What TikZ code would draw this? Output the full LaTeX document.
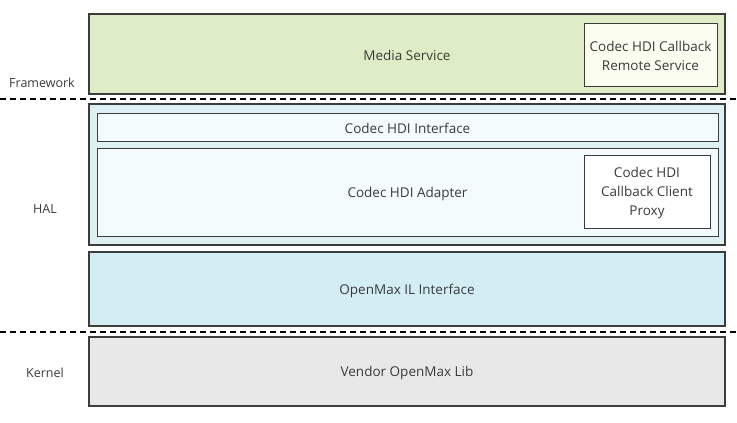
\documentclass[tikz,border=0pt]{standalone}
\usepackage{fontspec}
\setmainfont{Open Sans}
\definecolor{greenfill}{HTML}{DFEDC6}
\definecolor{remotefill}{HTML}{FAFDF0}
\definecolor{halfill}{HTML}{DDF1F5}
\definecolor{innerfill}{HTML}{F4FBFD}
\definecolor{omxfill}{HTML}{D2EEF4}
\definecolor{vendorfill}{HTML}{E8E8E8}
\definecolor{bordercol}{HTML}{3C3C3C}
\definecolor{txtcol}{HTML}{3A3A3A}
\begin{document}
\begin{tikzpicture}[x=1pt,y=-1pt,
  every node/.style={font=\fontsize{13.5}{19}\selectfont, text=txtcol, inner sep=0pt, outer sep=0pt},
  layerbox/.style={draw=bordercol, line width=1.8pt, rectangle},
  innerbox/.style={draw=bordercol, line width=0.8pt, rectangle},
  sepline/.style={draw=black, line width=1.1pt, dash pattern=on 6pt off 4pt},
  sidelabel/.style={anchor=center, font=\fontsize{12.5}{16}\selectfont},
  txt/.style={anchor=center, align=center}]
\useasboundingbox (0,0) rectangle (737,423);
% layer boxes
\node[layerbox, fill=greenfill, minimum width=636pt, minimum height=80pt] (media) at (407,54) {};
\node[txt] (mediat) at (407,55.5) {Media Service};
\node[innerbox, fill=remotefill, minimum width=133pt, minimum height=63pt] (remote) at (650.5,54.5) {};
\node[txt] (remotet) at (650.5,56) {Codec HDI Callback\\Remote Service};
\node[layerbox, fill=halfill, minimum width=636pt, minimum height=141pt] (hal) at (407,174.5) {};
\node[innerbox, fill=innerfill, minimum width=621pt, minimum height=28pt] (iface) at (407.5,127) {};
\node[txt] (ifacet) at (407.5,128.5) {Codec HDI Interface};
\node[innerbox, fill=innerfill, minimum width=621pt, minimum height=88pt] (adapter) at (407.5,192) {};
\node[txt] (adaptert) at (407.5,193.5) {Codec HDI Adapter};
\node[innerbox, fill=white, minimum width=126pt, minimum height=73pt] (proxy) at (647,191.5) {};
\node[txt] (proxyt) at (647,193) {Codec HDI\\Callback Client\\Proxy};
\node[layerbox, fill=omxfill, minimum width=636pt, minimum height=74pt] (omx) at (407,289) {};
\node[txt] (omxt) at (407,290.5) {OpenMax IL Interface};
\node[layerbox, fill=vendorfill, minimum width=636pt, minimum height=69pt] (vendor) at (407,371.5) {};
\node[txt] (vendort) at (407,373) {Vendor OpenMax Lib};
% separators
\coordinate (s1l) at (0,99);
\coordinate (s1r) at (737,99);
\coordinate (s2l) at (0,332);
\coordinate (s2r) at (737,332);
\draw[sepline] (s1l) -- (s1r);
\draw[sepline] (s2l) -- (s2r);
% side labels
\node[sidelabel] (fw) at (42,83) {Framework};
\node[sidelabel] (hallab) at (45,209) {HAL};
\node[sidelabel] (kern) at (45,373) {Kernel};
\end{tikzpicture}
\end{document}
